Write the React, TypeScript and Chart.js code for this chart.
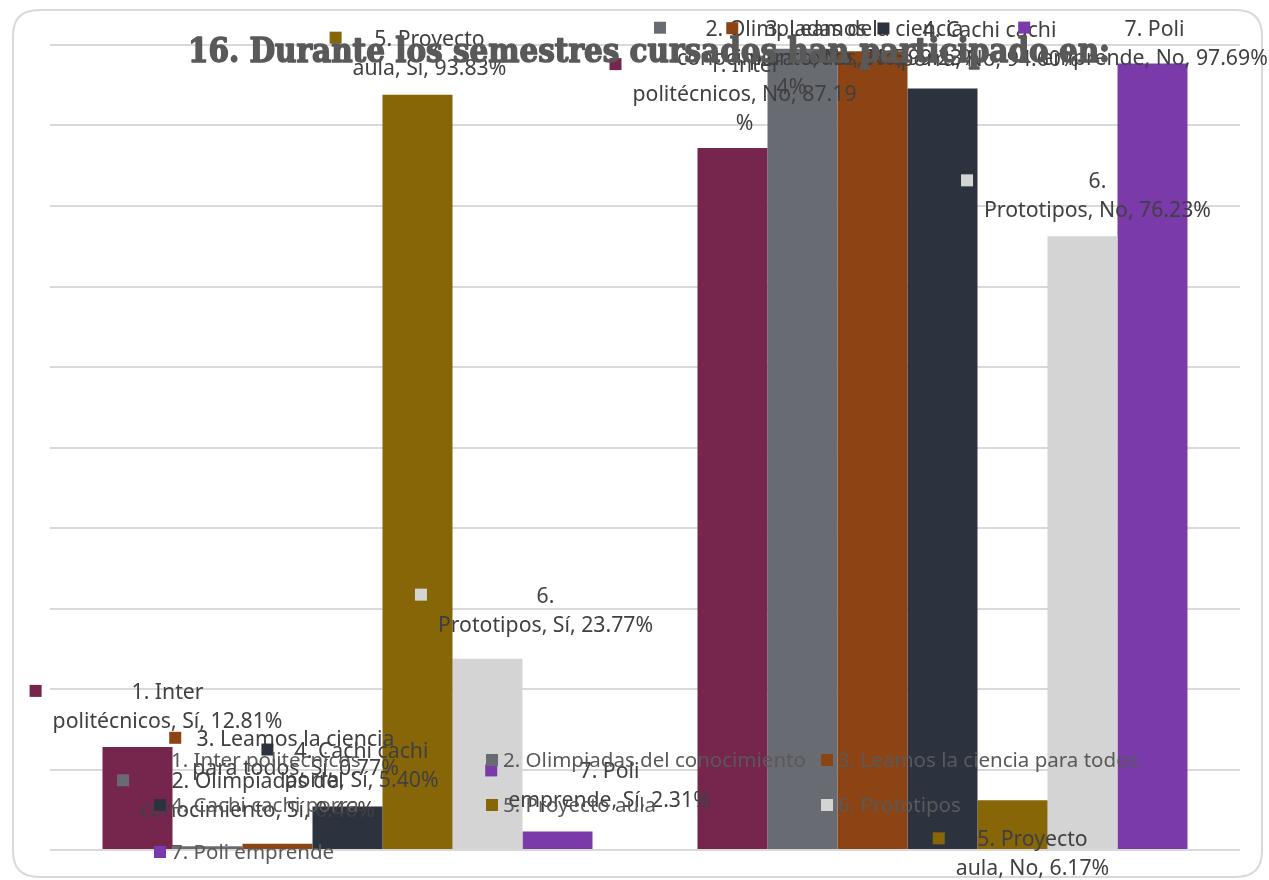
import React, { useEffect, useRef } from 'react';
import { Chart, registerables } from 'chart.js';

Chart.register(...registerables);

const titleText = '16. Durante los semestres cursados han participado en:';
const categories = ['Sí', 'No'];
const seriesNames = [
  '1. Inter politécnicos',
  '2. Olimpiadas del conocimiento',
  '3. Leamos la ciencia para todos',
  '4. Cachi cachi porra',
  '5. Proyecto aula',
  '6. Prototipos',
  '7. Poli emprende',
];
const seriesColors = ['#76264c', '#686c72', '#8c4415', '#2c333f', '#876608', '#d4d4d4', '#7b3aaa'];
const siValues = [12.81, 0.46, 0.77, 5.4, 93.83, 23.77, 2.31];
const noValues = [87.19, 99.54, 99.23, 94.6, 6.17, 76.23, 97.69];
const yMin = 0;
const yMax = 100;
const yStep = 10;

// label wrapping: words of series name on first line, trailing chars moved to an extra line
const firstLineWords = [2, 3, 4, 3, 2, 1, 2];
const siTailChars = [0, 0, 0, 0, 0, 0, 0];
const noTailChars = [1, 2, 0, 0, 0, 0, 0];
// label placement relative to bar (dx from bar center, dy of first line from bar top)
const siLabelOffsets = [[30, -54], [50, -64], [18, -104], [14, -55], [12, -55], [58, -62], [52, -59]];
const noLabelOffsets = [[12, -82], [-11, -19], [-8, -21], [47, -58], [20, 40], [15, -54], [2, -34]];

// legend layout: [column, row]
const legendCols = [160, 492, 827];
const legendRows = [760, 805, 852];
const legendSlots = [[0, 0], [1, 0], [2, 0], [0, 1], [1, 1], [2, 1], [0, 2]];

const FAMILY = '"Noto Sans", "Open Sans", sans-serif';

function buildLines(name: string, cat: string, v: number, nWords: number, tail: number): string[] {
  const words = name.split(' ');
  const first = words.slice(0, nWords).join(' ');
  const restName = words.slice(nWords).join(' ');
  const rest = (restName ? restName + ', ' : '') + cat + ', ' + v.toFixed(2) + '%';
  const lines = [first];
  if (tail > 0) {
    lines.push(rest.slice(0, rest.length - tail));
    lines.push(rest.slice(rest.length - tail));
  } else {
    lines.push(rest);
  }
  return lines;
}

function fitSize(ctx: CanvasRenderingContext2D, text: string, width: number, weight = '') {
  ctx.font = `${weight} 100px ${FAMILY}`;
  return (100 * width) / ctx.measureText(text).width;
}

const overlayPlugin = {
  id: 'overlay',
  beforeDraw(chart: any) {
    const ctx = chart.ctx;
    ctx.save();
    ctx.fillStyle = '#ffffff';
    ctx.fillRect(0, 0, chart.width, chart.height);
    ctx.strokeStyle = '#d9d9d9';
    ctx.lineWidth = 2;
    const x0 = 13, y0 = 10, x1 = 1262, y1 = 877, r = 26;
    ctx.beginPath();
    ctx.moveTo(x0 + r, y0);
    ctx.lineTo(x1 - r, y0);
    ctx.quadraticCurveTo(x1, y0, x1, y0 + r);
    ctx.lineTo(x1, y1 - r);
    ctx.quadraticCurveTo(x1, y1, x1 - r, y1);
    ctx.lineTo(x0 + r, y1);
    ctx.quadraticCurveTo(x0, y1, x0, y1 - r);
    ctx.lineTo(x0, y0 + r);
    ctx.quadraticCurveTo(x0, y0, x0 + r, y0);
    ctx.stroke();
    ctx.restore();
  },
  afterDraw(chart: any) {
    const ctx = chart.ctx;
    ctx.save();
    // data labels
    const labelSize = Math.min(22, fitSize(ctx, 'politécnicos, Sí, 12.81%', 230));
    ctx.font = `${labelSize}px ${FAMILY}`;
    ctx.textBaseline = 'middle';
    ctx.textAlign = 'center';
    const lineH = 29;
    seriesNames.forEach((name, si) => {
      const meta = chart.getDatasetMeta(si);
      categories.forEach((cat, ci) => {
        const bar = meta.data[ci];
        const vals = ci === 0 ? siValues : noValues;
        const tails = ci === 0 ? siTailChars : noTailChars;
        const offs = ci === 0 ? siLabelOffsets : noLabelOffsets;
        const lines = buildLines(name, cat, vals[si], firstLineWords[si], tails[si]);
        const cx = bar.x + offs[si][0];
        const y1 = bar.y + offs[si][1];
        let maxW = 0;
        lines.forEach((l) => (maxW = Math.max(maxW, ctx.measureText(l).width)));
        ctx.fillStyle = seriesColors[si];
        const mx = cx - maxW / 2 - 17;
        ctx.fillRect(mx - 6, y1 - 8, 12, 12);
        ctx.fillStyle = '#404040';
        lines.forEach((l, li) => ctx.fillText(l, cx, y1 + li * lineH));
      });
    });
    // legend
    const legendSize = Math.min(21, fitSize(ctx, '2. Olimpiadas del conocimiento', 303));
    ctx.font = `${legendSize}px ${FAMILY}`;
    ctx.textAlign = 'left';
    seriesNames.forEach((name, si) => {
      const [c, r] = legendSlots[si];
      const x = legendCols[c];
      const y = legendRows[r];
      ctx.fillStyle = seriesColors[si];
      ctx.fillRect(x - 6, y - 6, 12, 12);
      ctx.fillStyle = '#595959';
      ctx.fillText(name, x + 11, y + 1);
    });
    // title
    const targetW = 922;
    ctx.font = 'bold 33px "DejaVu Serif Condensed", "DejaVu Serif", serif';
    ctx.textBaseline = 'alphabetic';
    ctx.textAlign = 'center';
    const w = ctx.measureText(titleText).width;
    const sx = targetW / w;
    ctx.translate(649, 62);
    ctx.scale(sx, 1);
    ctx.fillStyle = '#595959';
    ctx.strokeStyle = '#595959';
    ctx.lineWidth = 1.4;
    ctx.lineJoin = 'round';
    ctx.strokeText(titleText, 0, 0);
    ctx.fillText(titleText, 0, 0);
    ctx.restore();
  },
};

export default function App() {
  const ref = useRef<HTMLCanvasElement | null>(null);
  useEffect(() => {
    if (!ref.current) return;
    const chart = new Chart(ref.current, {
      type: 'bar',
      data: {
        labels: categories,
        datasets: seriesNames.map((name, i) => ({
          label: name,
          data: [siValues[i], noValues[i]],
          backgroundColor: seriesColors[i],
          borderWidth: 0,
          categoryPercentage: 0.8235,
          barPercentage: 1,
        })),
      },
      options: {
        responsive: false,
        animation: false,
        layout: { padding: { left: 50, top: 45, right: 29, bottom: 30 } },
        plugins: {
          legend: { display: false },
          title: { display: false },
          tooltip: { enabled: false },
        },
        scales: {
          x: { display: false },
          y: {
            min: yMin,
            max: yMax,
            ticks: { display: false, stepSize: yStep },
            grid: { color: '#d9d9d9', lineWidth: 2, drawTicks: false },
            border: { display: false },
          },
        },
      },
      plugins: [overlayPlugin],
    });
    return () => chart.destroy();
  }, []);
  return (
    <div style={{ position: 'fixed', left: 0, top: 0, width: 1269, height: 880, background: '#fff' }}>
      <canvas ref={ref} width={1269} height={880} />
    </div>
  );
}
